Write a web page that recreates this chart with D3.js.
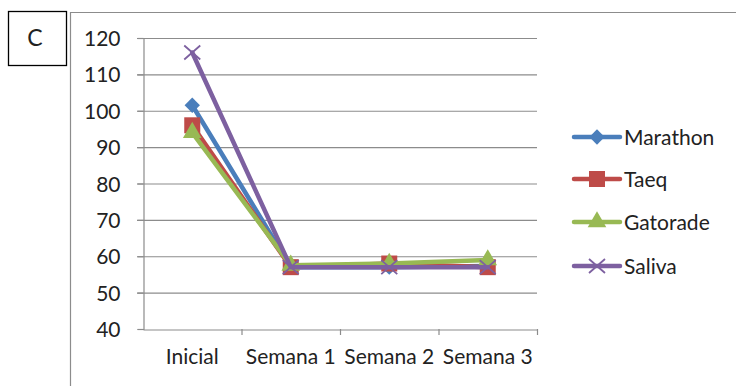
<!DOCTYPE html>
<html><head><meta charset="utf-8">
<script src="https://cdn.jsdelivr.net/npm/d3@7"></script>
<style>body{margin:0;background:#fff}svg{display:block}text{font-family:Lato,"Liberation Sans",sans-serif;fill:#222}</style>
</head><body>
<svg id="c" width="736" height="386"></svg>
<script>
const categories = ["Inicial","Semana 1","Semana 2","Semana 3"];
const seriesNames = ["Marathon","Taeq","Gatorade","Saliva"];
const marathon = [101.5, 57, 57, 57.3];
const taeq = [96, 57, 58, 57];
const gatorade = [94, 57.5, 58, 59];
const saliva = [116, 57, 57, 57];
const yTicks = [40,50,60,70,80,90,100,110,120];
const panelLabel = "C";

const colors = ["#4A7EBB","#BE4B48","#98B954","#7D60A0"];
const symbols = ["diamond","square","triangle","cross"];
const data = [marathon, taeq, gatorade, saliva];
const FS = 21;

const svg = d3.select("#c");
// outer frame
svg.append("path").attr("d","M70.5,400 V12.5 H760").attr("fill","none").attr("stroke","#8c8c8c").attr("stroke-width",1.2);
// panel label box
svg.append("rect").attr("x",8.5).attr("y",11.5).attr("width",58).attr("height",54).attr("fill","#fff").attr("stroke","#000").attr("stroke-width",1.3);
svg.append("text").attr("x",35).attr("y",46).attr("text-anchor","middle").attr("font-size",23).text(panelLabel);

const L=143, R=537, T=38, B=329;
const x = d3.scaleBand().domain(categories).range([L,R]);
const y = d3.scaleLinear().domain([40,120]).range([B,T]);

// gridlines
svg.append("g").selectAll("line").data(yTicks.filter(d=>d>40)).join("line")
  .attr("x1",L-6).attr("x2",R).attr("y1",d=>y(d)+0.5).attr("y2",d=>y(d)+0.5)
  .attr("stroke","#8c8c8c").attr("stroke-width",1.2);

// y axis
const ya = svg.append("g").attr("transform",`translate(${L+0.5},0)`)
  .call(d3.axisLeft(y).tickValues(yTicks).tickSize(6).tickPadding(17));
ya.select(".domain").attr("stroke","#8c8c8c").attr("stroke-width",1.2);
ya.selectAll(".tick line").attr("stroke","#8c8c8c").attr("stroke-width",1.2);
ya.selectAll(".tick text").attr("font-size",FS).attr("font-family","Lato").attr("fill","#222").attr("dy","0.36em");

// x axis
const xa = svg.append("g").attr("transform",`translate(0,${B+0.5})`)
  .call(d3.axisBottom(x).tickSize(0).tickPadding(20));
xa.select(".domain").attr("stroke","#8c8c8c").attr("stroke-width",1.2);
xa.selectAll(".tick text").attr("font-size",FS).attr("font-family","Lato").attr("fill","#222");
svg.append("g").selectAll("line").data(categories).join("line")
  .attr("x1",d=>x(d)+x.bandwidth()+0.5).attr("x2",d=>x(d)+x.bandwidth()+0.5)
  .attr("y1",B).attr("y2",B+6).attr("stroke","#8c8c8c").attr("stroke-width",1.2);

const cx = d=>x(d)+x.bandwidth()/2;
const line = d3.line().x((d,i)=>cx(categories[i])).y(d=>y(d));

function marker(g, type, color, px, py){
  if(type==="diamond"){
    g.append("path").attr("d",d3.symbol(d3.symbolDiamond2,150)()).attr("transform",`translate(${px},${py})`).attr("fill",color);
  } else if(type==="square"){
    g.append("rect").attr("x",px-8).attr("y",py-8).attr("width",16).attr("height",16).attr("fill",color);
  } else if(type==="triangle"){
    g.append("path").attr("d",d3.symbol(d3.symbolTriangle,150)()).attr("transform",`translate(${px},${py})`).attr("fill",color);
  } else {
    g.append("path").attr("d",`M${px-8},${py-7}L${px+8},${py+7}M${px-8},${py+7}L${px+8},${py-7}`).attr("stroke",color).attr("stroke-width",1.8).attr("fill","none");
  }
}

data.forEach((vals,k)=>{
  const g = svg.append("g");
  g.append("path").datum(vals).attr("d",line).attr("fill","none").attr("stroke",colors[k]).attr("stroke-width",4.5).attr("stroke-linejoin","round").attr("stroke-linecap","round");
  vals.forEach((v,i)=>marker(g,symbols[k],colors[k],cx(categories[i]),y(v)));
});

// legend
const legY = [137,179,222,266];
seriesNames.forEach((n,k)=>{
  const g = svg.append("g");
  g.append("line").attr("x1",574).attr("x2",620).attr("y1",legY[k]).attr("y2",legY[k]).attr("stroke",colors[k]).attr("stroke-width",4.5).attr("stroke-linecap","round");
  marker(g,symbols[k],colors[k],597,legY[k]);
  g.append("text").attr("x",624).attr("y",legY[k]).attr("dy","0.36em").attr("font-size",FS).text(n);
});
</script>
</body></html>
